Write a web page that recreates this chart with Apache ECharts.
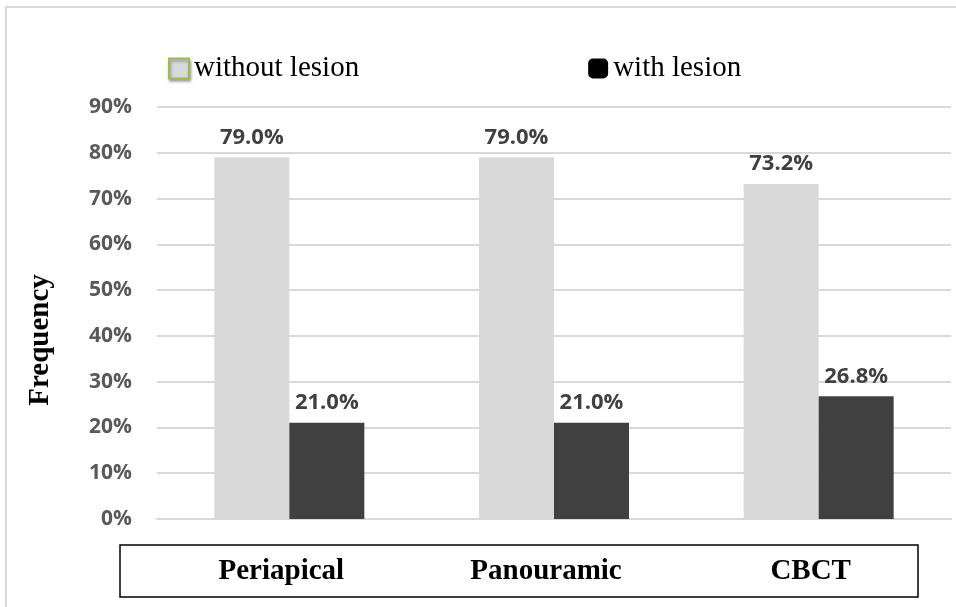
<!DOCTYPE html>
<html>
<head>
<meta charset="utf-8">
<script src="https://cdn.jsdelivr.net/npm/echarts@6/dist/echarts.min.js"></script>
<style>html,body{margin:0;padding:0;background:#fff;}#c{width:956px;height:607px;}</style>
</head>
<body>
<div id="c"></div>
<script>
const categories = ['Periapical', 'Panouramic', 'CBCT'];
const withoutLesion = [0.790, 0.790, 0.732];
const withLesion = [0.210, 0.210, 0.268];
const yTicks = { min: 0, max: 0.9, interval: 0.1 };

const chart = echarts.init(document.getElementById('c'));
const labelOpt = {
  show: true, position: 'top', distance: 9,
  fontFamily: 'Open Sans', fontWeight: 'bold', fontSize: 22, color: '#404040',
  formatter: p => (p.value * 100).toFixed(1) + '%'
};
chart.setOption({
  animation: false,
  backgroundColor: '#fff',
  grid: { left: 157, right: 5, top: 107, bottom: 88 },
  legend: {
    left: 163, top: 49, itemWidth: 20, itemHeight: 20, itemGap: 229,
    textStyle: { fontFamily: 'Liberation Serif', fontSize: 29, color: '#000' },
    data: [
      { name: 'without lesion', icon: 'rect', itemStyle: { color: '#d9d9d9', borderColor: '#9bbb59', borderWidth: 2, shadowColor: 'rgba(0,0,0,0.35)', shadowBlur: 3, shadowOffsetX: 1, shadowOffsetY: 2 } },
      { name: 'with lesion', icon: 'roundRect', itemStyle: { color: '#000' } }
    ]
  },
  xAxis: {
    type: 'category', data: categories,
    axisLine: { lineStyle: { color: '#d9d9d9', width: 2 } },
    axisTick: { show: false },
    axisLabel: { margin: 38, fontFamily: 'Liberation Serif', fontWeight: 'bold', fontSize: 29, color: '#000',
      padding: [0, 16, 0, 0] }
  },
  yAxis: {
    type: 'value', min: yTicks.min, max: yTicks.max, interval: yTicks.interval,
    axisLine: { show: false }, axisTick: { show: false },
    splitLine: { lineStyle: { color: '#d9d9d9', width: 2 } },
    axisLabel: { margin: 25, fontFamily: 'Open Sans', fontWeight: 'bold', fontSize: 21, color: '#595959',
      formatter: v => Math.round(v * 100) + '%' }
  },
  series: [
    { name: 'without lesion', type: 'bar', data: withoutLesion, barWidth: 75, barGap: '0%',
      itemStyle: { color: '#d9d9d9' }, label: labelOpt },
    { name: 'with lesion', type: 'bar', data: withLesion, barWidth: 75, barGap: '0%',
      itemStyle: { color: '#404040' }, label: labelOpt }
  ],
  graphic: [
    { type: 'polyline', shape: { points: [[6, 607], [6, 7], [956, 7]] }, style: { stroke: '#d9d9d9', lineWidth: 2, fill: null }, silent: true },
    { type: 'rect', shape: { x: 120, y: 545, width: 798, height: 52 }, style: { stroke: '#000', lineWidth: 1.5, fill: null }, silent: true, z: -1 },
    { type: 'text', x: 41, y: 340, rotation: Math.PI / 2,
      style: { text: 'Frequency', fontFamily: 'Liberation Serif', fontWeight: 'bold', fontSize: 29, fill: '#000', align: 'center', verticalAlign: 'middle' } }
  ]
});
</script>
</body>
</html>
